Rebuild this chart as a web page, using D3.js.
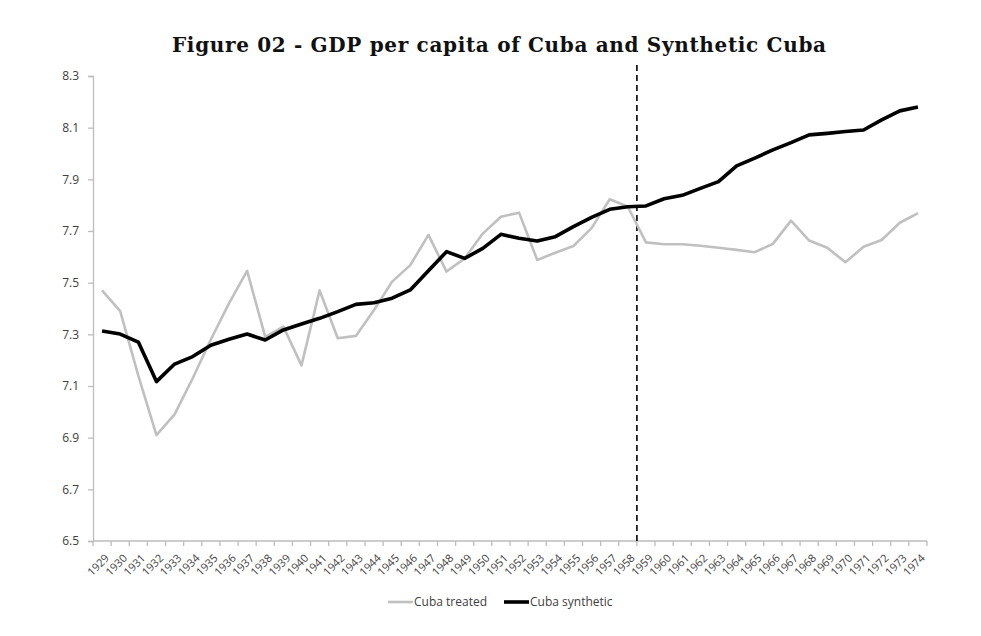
<!DOCTYPE html>
<html>
<head>
<meta charset="utf-8">
<script src="https://cdn.jsdelivr.net/npm/d3@7"></script>
<style>
  body { margin: 0; background: #fff; }
  svg { display: block; }
</style>
</head>
<body>
<svg id="chart" width="981" height="636" viewBox="0 0 981 636"></svg>
<script>
// Years on the category axis
const years = d3.range(1929, 1975).map(String);

// log GDP per capita, Cuba (observed)
const cubaTreated = [
    7.47, 7.39, 7.14, 6.91, 6.99, 7.13, 7.28, 7.42, 7.546, 7.29,
    7.33, 7.18, 7.47, 7.285, 7.294, 7.394, 7.504, 7.568, 7.685, 7.543,
    7.594, 7.69, 7.755, 7.771, 7.588, 7.616, 7.642, 7.711, 7.823, 7.794,
    7.656, 7.649, 7.649, 7.643, 7.635, 7.627, 7.618, 7.65, 7.74, 7.663,
    7.635, 7.579, 7.639, 7.665, 7.732, 7.769
];

// log GDP per capita, synthetic Cuba
const cubaSynthetic = [
    7.313, 7.301, 7.27, 7.117, 7.185, 7.214, 7.258, 7.281, 7.301, 7.278,
    7.317, 7.34, 7.362, 7.388, 7.416, 7.422, 7.44, 7.472, 7.546, 7.62,
    7.594, 7.633, 7.687, 7.672, 7.661, 7.678, 7.717, 7.753, 7.784, 7.794,
    7.797, 7.825, 7.838, 7.865, 7.891, 7.952, 7.982, 8.014, 8.042, 8.072,
    8.078, 8.085, 8.091, 8.13, 8.165, 8.18
];

const yTicks = [6.5, 6.7, 6.9, 7.1, 7.3, 7.5, 7.7, 7.9, 8.1, 8.3];
const treatmentYear = "1959";

const svg = d3.select("#chart");
const margin = { left: 93, right: 54, top: 76, bottom: 95 };
const width = 981, height = 636;

const x = d3.scaleBand()
    .domain(years)
    .range([margin.left, width - margin.right]);

const y = d3.scaleLinear()
    .domain([6.5, 8.3])
    .range([height - margin.bottom, margin.top]);

const axisColor = "#bdbdbd";
const labelColor = "#404040";
const font = "'Open Sans', sans-serif";

// Title
svg.append("text")
    .attr("x", 499)
    .attr("y", 52)
    .attr("text-anchor", "middle")
    .attr("font-family", "'DejaVu Serif', serif")
    .attr("font-weight", "bold")
    .attr("font-size", 20)
    .attr("textLength", 654)
    .attr("lengthAdjust", "spacing")
    .attr("fill", "#111")
    .text("Figure 02 - GDP per capita of Cuba and Synthetic Cuba");

// Y axis
const yAxis = svg.append("g")
    .attr("transform", `translate(${margin.left},0)`)
    .call(d3.axisLeft(y).tickValues(yTicks).tickFormat(d3.format(".1f")).tickSize(5).tickPadding(9));
yAxis.select(".domain").attr("stroke", axisColor).attr("stroke-width", 1.3);
yAxis.selectAll(".tick line").attr("stroke", axisColor).attr("stroke-width", 1.3);
yAxis.selectAll(".tick text")
    .attr("font-family", font)
    .attr("font-size", 12)
    .attr("fill", labelColor);

// X axis: ticks at band boundaries, labels at band centres
const xAxis = svg.append("g")
    .attr("transform", `translate(0,${y(6.5)})`);
xAxis.append("line")
    .attr("x1", x.range()[0]).attr("x2", x.range()[1])
    .attr("stroke", axisColor).attr("stroke-width", 1.3);
xAxis.selectAll("line.tick")
    .data(years.map(d => x(d)).concat([x.range()[1]]))
    .enter()
    .append("line")
    .attr("class", "tick")
    .attr("x1", d => d).attr("x2", d => d)
    .attr("y1", 0).attr("y2", 5)
    .attr("stroke", axisColor).attr("stroke-width", 1.3);
xAxis.selectAll("text")
    .data(years)
    .enter()
    .append("text")
    .attr("transform", d => `translate(${x(d) + x.bandwidth() / 2 + 5},${15}) rotate(-45)`)
    .attr("text-anchor", "end")
    .attr("dy", "0.35em")
    .attr("font-family", font)
    .attr("font-size", 11)
    .attr("fill", labelColor)
    .text(d => d);

// Treatment year marker
svg.append("line")
    .attr("x1", x(treatmentYear)).attr("x2", x(treatmentYear))
    .attr("y1", 65).attr("y2", y(6.5))
    .attr("stroke", "#000")
    .attr("stroke-width", 1.6)
    .attr("stroke-dasharray", "6,4");

const line = d3.line()
    .x((d, i) => x(years[i]) + x.bandwidth() / 2)
    .y(d => y(d));

svg.append("path")
    .datum(cubaTreated)
    .attr("d", line)
    .attr("fill", "none")
    .attr("stroke", "#c0c0c0")
    .attr("stroke-width", 2.6)
    .attr("stroke-linejoin", "round");

svg.append("path")
    .datum(cubaSynthetic)
    .attr("d", line)
    .attr("fill", "none")
    .attr("stroke", "#000")
    .attr("stroke-width", 3.6)
    .attr("stroke-linejoin", "round");

// Legend
const legendItems = [
    { label: "Cuba treated", color: "#c0c0c0", width: 2.6, x: 388 },
    { label: "Cuba synthetic", color: "#000", width: 3.6, x: 504 }
];
const legend = svg.append("g").attr("transform", "translate(0,602)");
legendItems.forEach(item => {
    legend.append("line")
        .attr("x1", item.x).attr("x2", item.x + 25)
        .attr("stroke", item.color)
        .attr("stroke-width", item.width);
    legend.append("text")
        .attr("x", item.x + 26)
        .attr("dy", "0.35em")
        .attr("font-family", font)
        .attr("font-size", 12)
        .attr("fill", labelColor)
        .text(item.label);
});
</script>
</body>
</html>
